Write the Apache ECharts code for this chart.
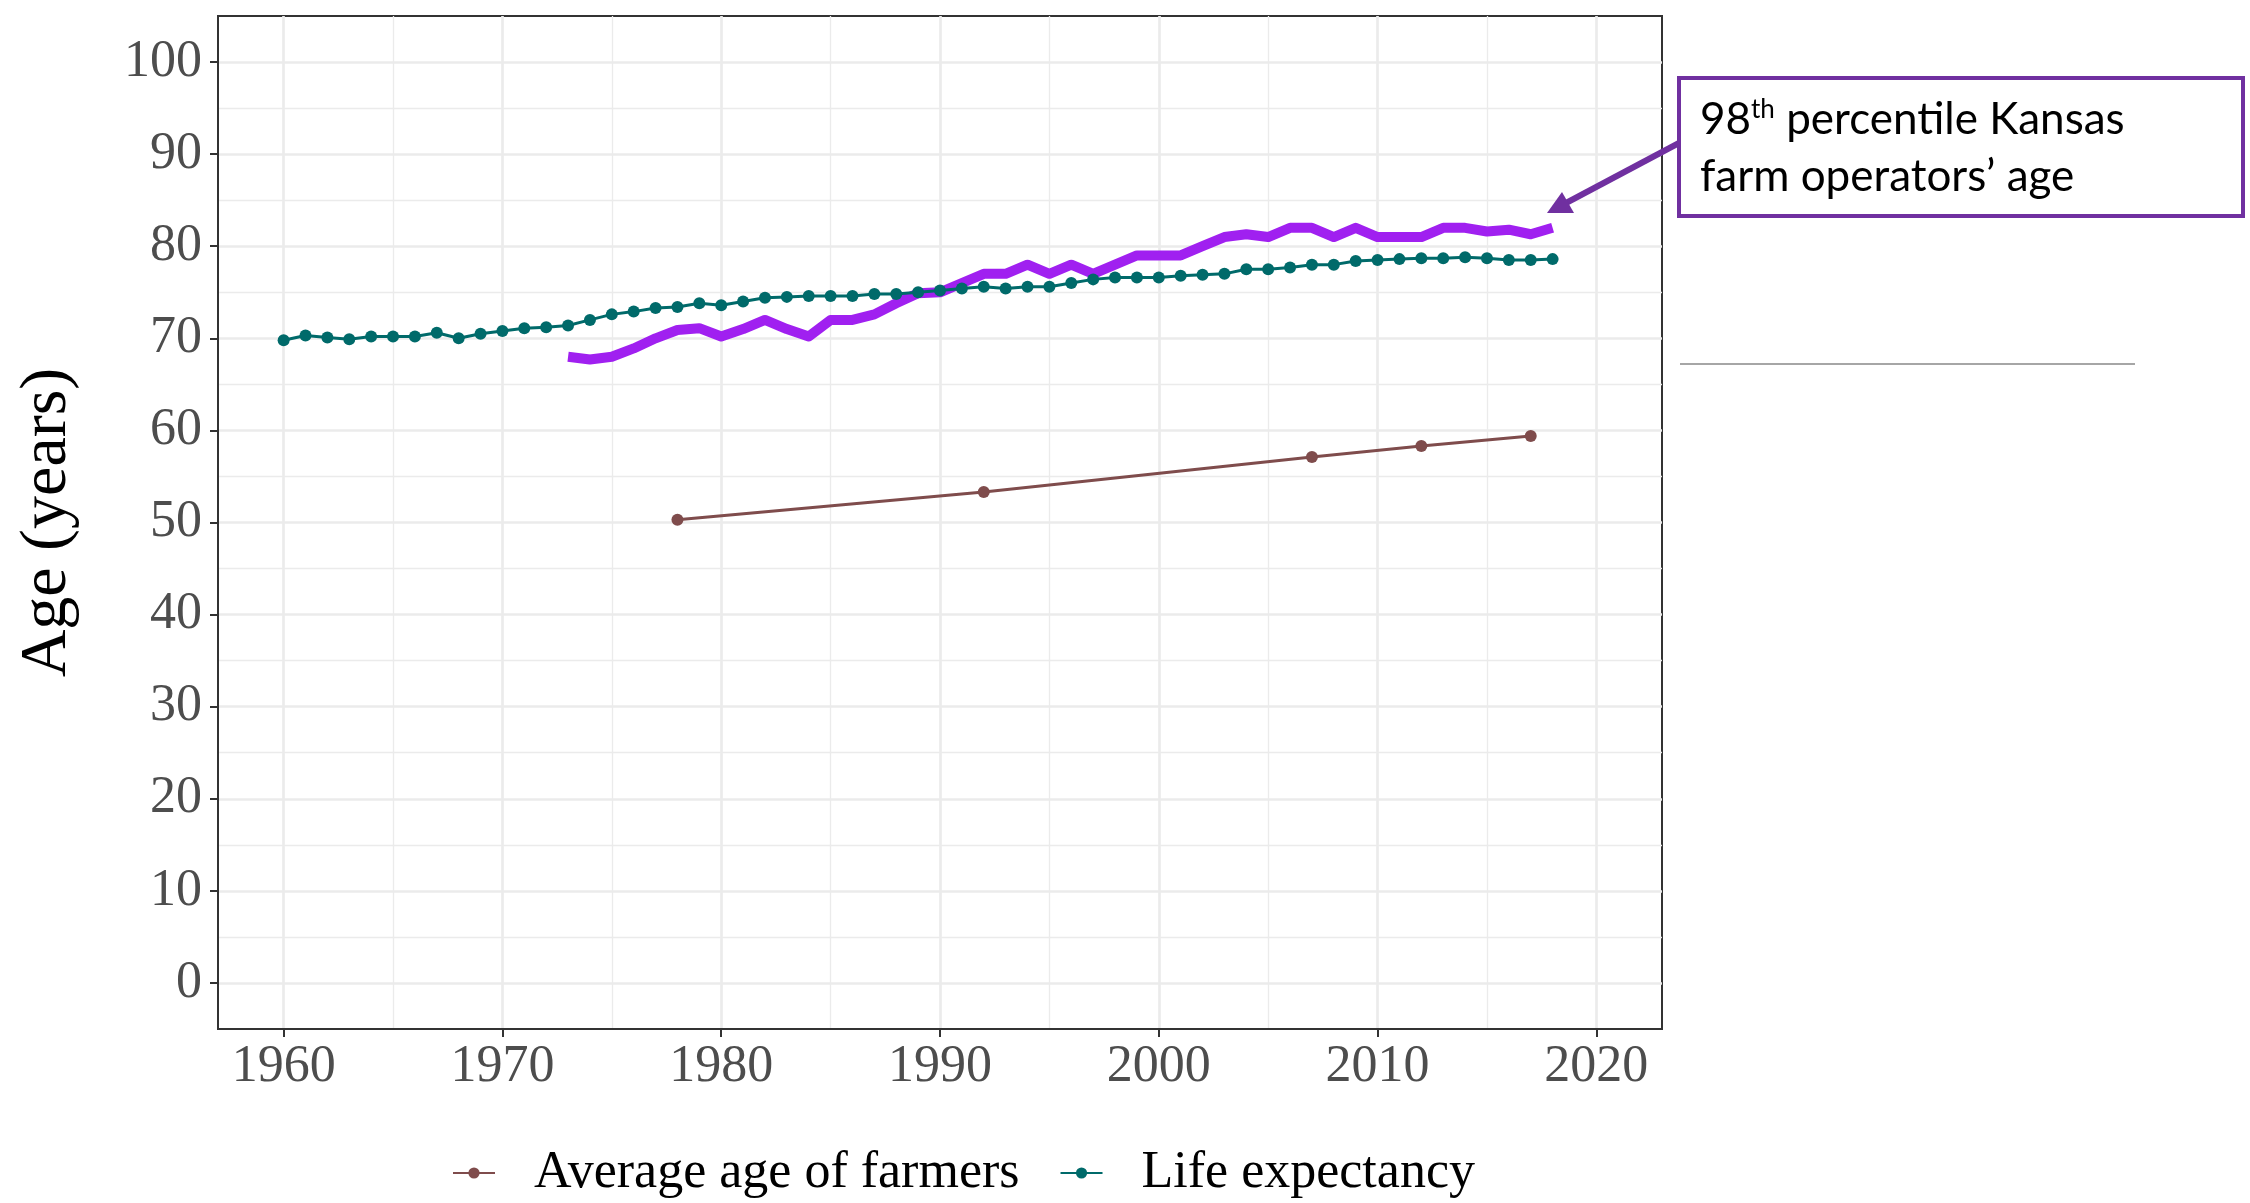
<!DOCTYPE html>
<html>
<head>
<meta charset="utf-8">
<script src="https://cdn.jsdelivr.net/npm/echarts@6/dist/echarts.min.js"></script>
<style>
  html, body { margin: 0; padding: 0; background: #fff; }
  #ageChart { width: 2250px; height: 1203px; }
</style>
</head>
<body>
<div id="ageChart"></div>
<script>
// US life expectancy, 1960-2018
const lifeYears = [1960, 1961, 1962, 1963, 1964, 1965, 1966, 1967, 1968, 1969,
  1970, 1971, 1972, 1973, 1974, 1975, 1976, 1977, 1978, 1979,
  1980, 1981, 1982, 1983, 1984, 1985, 1986, 1987, 1988, 1989,
  1990, 1991, 1992, 1993, 1994, 1995, 1996, 1997, 1998, 1999,
  2000, 2001, 2002, 2003, 2004, 2005, 2006, 2007, 2008, 2009,
  2010, 2011, 2012, 2013, 2014, 2015, 2016, 2017, 2018];
const lifeExp = [69.8, 70.3, 70.1, 69.9, 70.2, 70.2, 70.2, 70.6, 70.0, 70.5,
  70.8, 71.1, 71.2, 71.4, 72.0, 72.6, 72.9, 73.3, 73.4, 73.8,
  73.6, 74.0, 74.4, 74.5, 74.6, 74.6, 74.6, 74.8, 74.8, 75.0,
  75.2, 75.4, 75.6, 75.4, 75.6, 75.6, 76.0, 76.4, 76.6, 76.6,
  76.6, 76.8, 76.9, 77.0, 77.5, 77.5, 77.7, 78.0, 78.0, 78.4,
  78.5, 78.6, 78.7, 78.7, 78.8, 78.7, 78.5, 78.5, 78.6];

// census average age of farmers
const farmYears = [1978, 1992, 2007, 2012, 2017];
const farmAge = [50.3, 53.3, 57.1, 58.3, 59.4];

// 98th percentile Kansas farm operators' age
const kansasYears = [1973, 1974, 1975, 1976, 1977, 1978, 1979, 1980, 1981, 1982,
  1983, 1984, 1985, 1986, 1987, 1988, 1989, 1990, 1991, 1992,
  1993, 1994, 1995, 1996, 1997, 1998, 1999, 2000, 2001, 2002,
  2003, 2004, 2005, 2006, 2007, 2008, 2009, 2010, 2011, 2012,
  2013, 2014, 2015, 2016, 2017, 2018];
const kansasAge = [68.0, 67.7, 68.0, 68.9, 70.0, 70.9, 71.1, 70.2, 71.0, 72.0,
  71.0, 70.2, 72.0, 72.0, 72.6, 73.8, 74.9, 75.0, 76.0, 77.0,
  77.0, 78.0, 77.0, 78.0, 77.0, 78.0, 79.0, 79.0, 79.0, 80.0,
  81.0, 81.3, 81.0, 82.0, 82.0, 81.0, 82.0, 81.0, 81.0, 81.0,
  82.0, 82.0, 81.6, 81.8, 81.3, 82.0];

const xTicks = [1960, 1970, 1980, 1990, 2000, 2010, 2020];
const xMinor = [1965, 1975, 1985, 1995, 2005, 2015];
const yTicks = [0, 10, 20, 30, 40, 50, 60, 70, 80, 90, 100];
const yMinor = [5, 15, 25, 35, 45, 55, 65, 75, 85, 95];

const pairs = (xs, ys) => xs.map((x, i) => [x, ys[i]]);

const serif = 'Liberation Serif';
const gridMajor = { color: '#ebebeb', width: 2.7 };
const gridMinor = { color: '#ebebeb', width: 1.3 };

const option = {
  animation: false,
  backgroundColor: '#fff',
  grid: {
    left: 218, right: 588, top: 16, bottom: 174,
    show: true, borderColor: '#333', borderWidth: 2,
    outerBoundsMode: 'none',
  },
  legend: {
    data: ['Average age of farmers', 'Life expectancy'],
    left: 447,
    top: 1142,
    itemWidth: 42,
    itemHeight: 14,
    itemGap: 40,
    textStyle: { fontFamily: serif, fontSize: 52, color: '#000', padding: [0, 0, 0, 34] },
  },
  xAxis: [
    {
      type: 'value', min: 1957, max: 2023,
      axisLine: { show: true, onZero: false, lineStyle: { color: '#333', width: 2 } },
      axisTick: { show: true, length: 8, lineStyle: { color: '#333', width: 2 }, customValues: xTicks },
      axisLabel: {
        customValues: xTicks, margin: 12, fontFamily: serif, fontSize: 52, color: '#4d4d4d',
        formatter: (v) => String(v),
      },
      splitLine: { show: true, lineStyle: gridMajor },
    },
    {
      // only for the minor gridlines
      type: 'value', min: 1957, max: 2023, position: 'top',
      axisLine: { show: false },
      axisTick: { show: false, customValues: xMinor },
      axisLabel: { show: false, customValues: xMinor },
      splitLine: { show: true, lineStyle: gridMinor },
    },
  ],
  yAxis: [
    {
      type: 'value', min: -5, max: 105,
      name: 'Age (years)',
      nameLocation: 'middle',
      nameGap: 137,
      nameTextStyle: { fontFamily: serif, fontSize: 66, color: '#000' },
      axisLine: { show: true, onZero: false, lineStyle: { color: '#333', width: 2 } },
      axisTick: { show: true, length: 8, lineStyle: { color: '#333', width: 2 }, customValues: yTicks },
      axisLabel: { customValues: yTicks, margin: 16, fontFamily: serif, fontSize: 52, color: '#4d4d4d' },
      splitLine: { show: true, lineStyle: gridMajor },
    },
    {
      type: 'value', min: -5, max: 105, position: 'right',
      axisLine: { show: false },
      axisTick: { show: false, customValues: yMinor },
      axisLabel: { show: false, customValues: yMinor },
      splitLine: { show: true, lineStyle: gridMinor },
    },
  ],
  series: [
    {
      name: 'Kansas 98th percentile',
      type: 'line',
      data: pairs(kansasYears, kansasAge),
      showSymbol: false,
      lineStyle: { color: '#a020f0', width: 10, cap: 'butt', join: 'round' },
      itemStyle: { color: '#a020f0' },
      emphasis: { disabled: true },
      z: 2,
    },
    {
      name: 'Average age of farmers',
      type: 'line',
      data: pairs(farmYears, farmAge),
      symbol: 'circle',
      symbolSize: 12,
      lineStyle: { color: '#7f4c4c', width: 3 },
      itemStyle: { color: '#7f4c4c' },
      emphasis: { disabled: true },
      z: 3,
    },
    {
      name: 'Life expectancy',
      type: 'line',
      data: pairs(lifeYears, lifeExp),
      symbol: 'circle',
      symbolSize: 12,
      showAllSymbol: true,
      lineStyle: { color: '#006a6a', width: 3 },
      itemStyle: { color: '#006a6a' },
      emphasis: { disabled: true },
      z: 4,
    },
  ],
  // callout box + arrow on the right
  graphic: [
    {
      type: 'rect',
      shape: { x: 1679, y: 78, width: 564, height: 138 },
      style: { fill: '#fff', stroke: '#7030a0', lineWidth: 4 },
      z: 10,
    },
    {
      type: 'text',
      x: 1700, y: 91,
      style: {
        text: '{n|98}{sup|th}{n| percentile Kansas}\n{n|farm operators\u2019 age}',
        rich: {
          n: { fontFamily: 'Lato', fontSize: 44, color: '#000', lineHeight: 57, verticalAlign: 'middle' },
          sup: { fontFamily: 'Lato', fontSize: 26, color: '#000', lineHeight: 26, verticalAlign: 'middle', padding: [0, 0, 20, 0] },
        },
      },
      z: 11,
    },
    {
      type: 'line',
      shape: { x1: 1679, y1: 143, x2: 1566, y2: 203 },
      style: { stroke: '#7030a0', lineWidth: 6 },
      z: 10,
    },
    {
      type: 'polygon',
      shape: { points: [[1547, 213], [1562, 192], [1574, 213]] },
      style: { fill: '#7030a0' },
      z: 10,
    },
    {
      type: 'line',
      shape: { x1: 1680, y1: 364, x2: 2135, y2: 364 },
      style: { stroke: '#a6a6a6', lineWidth: 2 },
      z: 10,
    },
  ],
};

const chart = echarts.init(document.getElementById('ageChart'));
chart.setOption(option);
</script>
</body>
</html>
